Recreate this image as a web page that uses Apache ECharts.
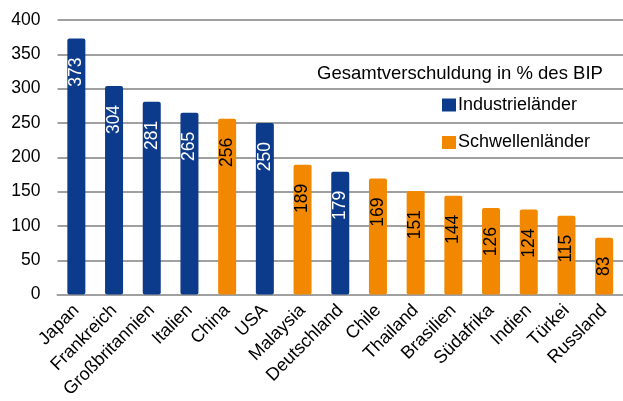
<!DOCTYPE html>
<html><head><meta charset="utf-8">
<script src="https://cdn.jsdelivr.net/npm/echarts@6/dist/echarts.min.js"></script>
<style>html,body{margin:0;padding:0;background:#fff}#c{width:623px;height:401px}</style>
</head><body><div id="c"></div>
<script>
var categories = ['Japan','Frankreich','Großbritannien','Italien','China','USA','Malaysia','Deutschland','Chile','Thailand','Brasilien','Südafrika','Indien','Türkei','Russland'];
var industrie = [373,304,281,265,'-',250,'-',179,'-','-','-','-','-','-','-'];
var schwellen = ['-','-','-','-',256,'-',189,'-',169,151,144,126,124,115,83];
var yTicks = [0,50,100,150,200,250,300,350,400];
var chartTitle = 'Gesamtverschuldung in % des BIP';
var seriesNames = ['Industrieländer','Schwellenländer'];

var font = 'Liberation Sans, Arial, sans-serif';
var chart = echarts.init(document.getElementById('c'));
function lbl(color){
  return {show:true, position:'insideTop', rotate:90, align:'right', verticalAlign:'middle', distance:19,
    color:color, fontSize:17.5, fontFamily:font};
}
chart.setOption({
  animation:false,
  title:{text:chartTitle, left:317, top:64, padding:0,
    textStyle:{fontSize:18.5, fontWeight:'normal', color:'#000', fontFamily:font}},
  legend:{orient:'vertical', left:442, top:96, padding:0, itemGap:19.5, itemWidth:14, itemHeight:13, icon:'rect',
    textStyle:{fontSize:18, color:'#000', fontFamily:font, padding:[0,0,0,-3]}, data:seriesNames},
  grid:{left:57.5, right:-4, top:20, bottom:106},
  xAxis:{type:'category', data:categories,
    axisLine:{lineStyle:{color:'#a0a0a0', width:2}}, axisTick:{show:false},
    axisLabel:{rotate:45, interval:0, fontSize:18, color:'#000', fontFamily:font, margin:13}},
  yAxis:{type:'value', min:yTicks[0], max:yTicks[yTicks.length-1], interval:50,
    axisLine:{show:false}, axisTick:{show:false},
    axisLabel:{fontSize:17.5, color:'#000', fontFamily:font, margin:17},
    splitLine:{lineStyle:{color:'#a0a0a0', width:2}}},
  series:[
    {name:seriesNames[0], type:'bar', stack:'s', data:industrie, barWidth:18,
      itemStyle:{color:'#0d3b8b', borderRadius:2}, label:lbl('#fff')},
    {name:seriesNames[1], type:'bar', stack:'s', data:schwellen, barWidth:18,
      itemStyle:{color:'#f28800', borderRadius:2}, label:lbl('#000')}
  ]
});
</script></body></html>
